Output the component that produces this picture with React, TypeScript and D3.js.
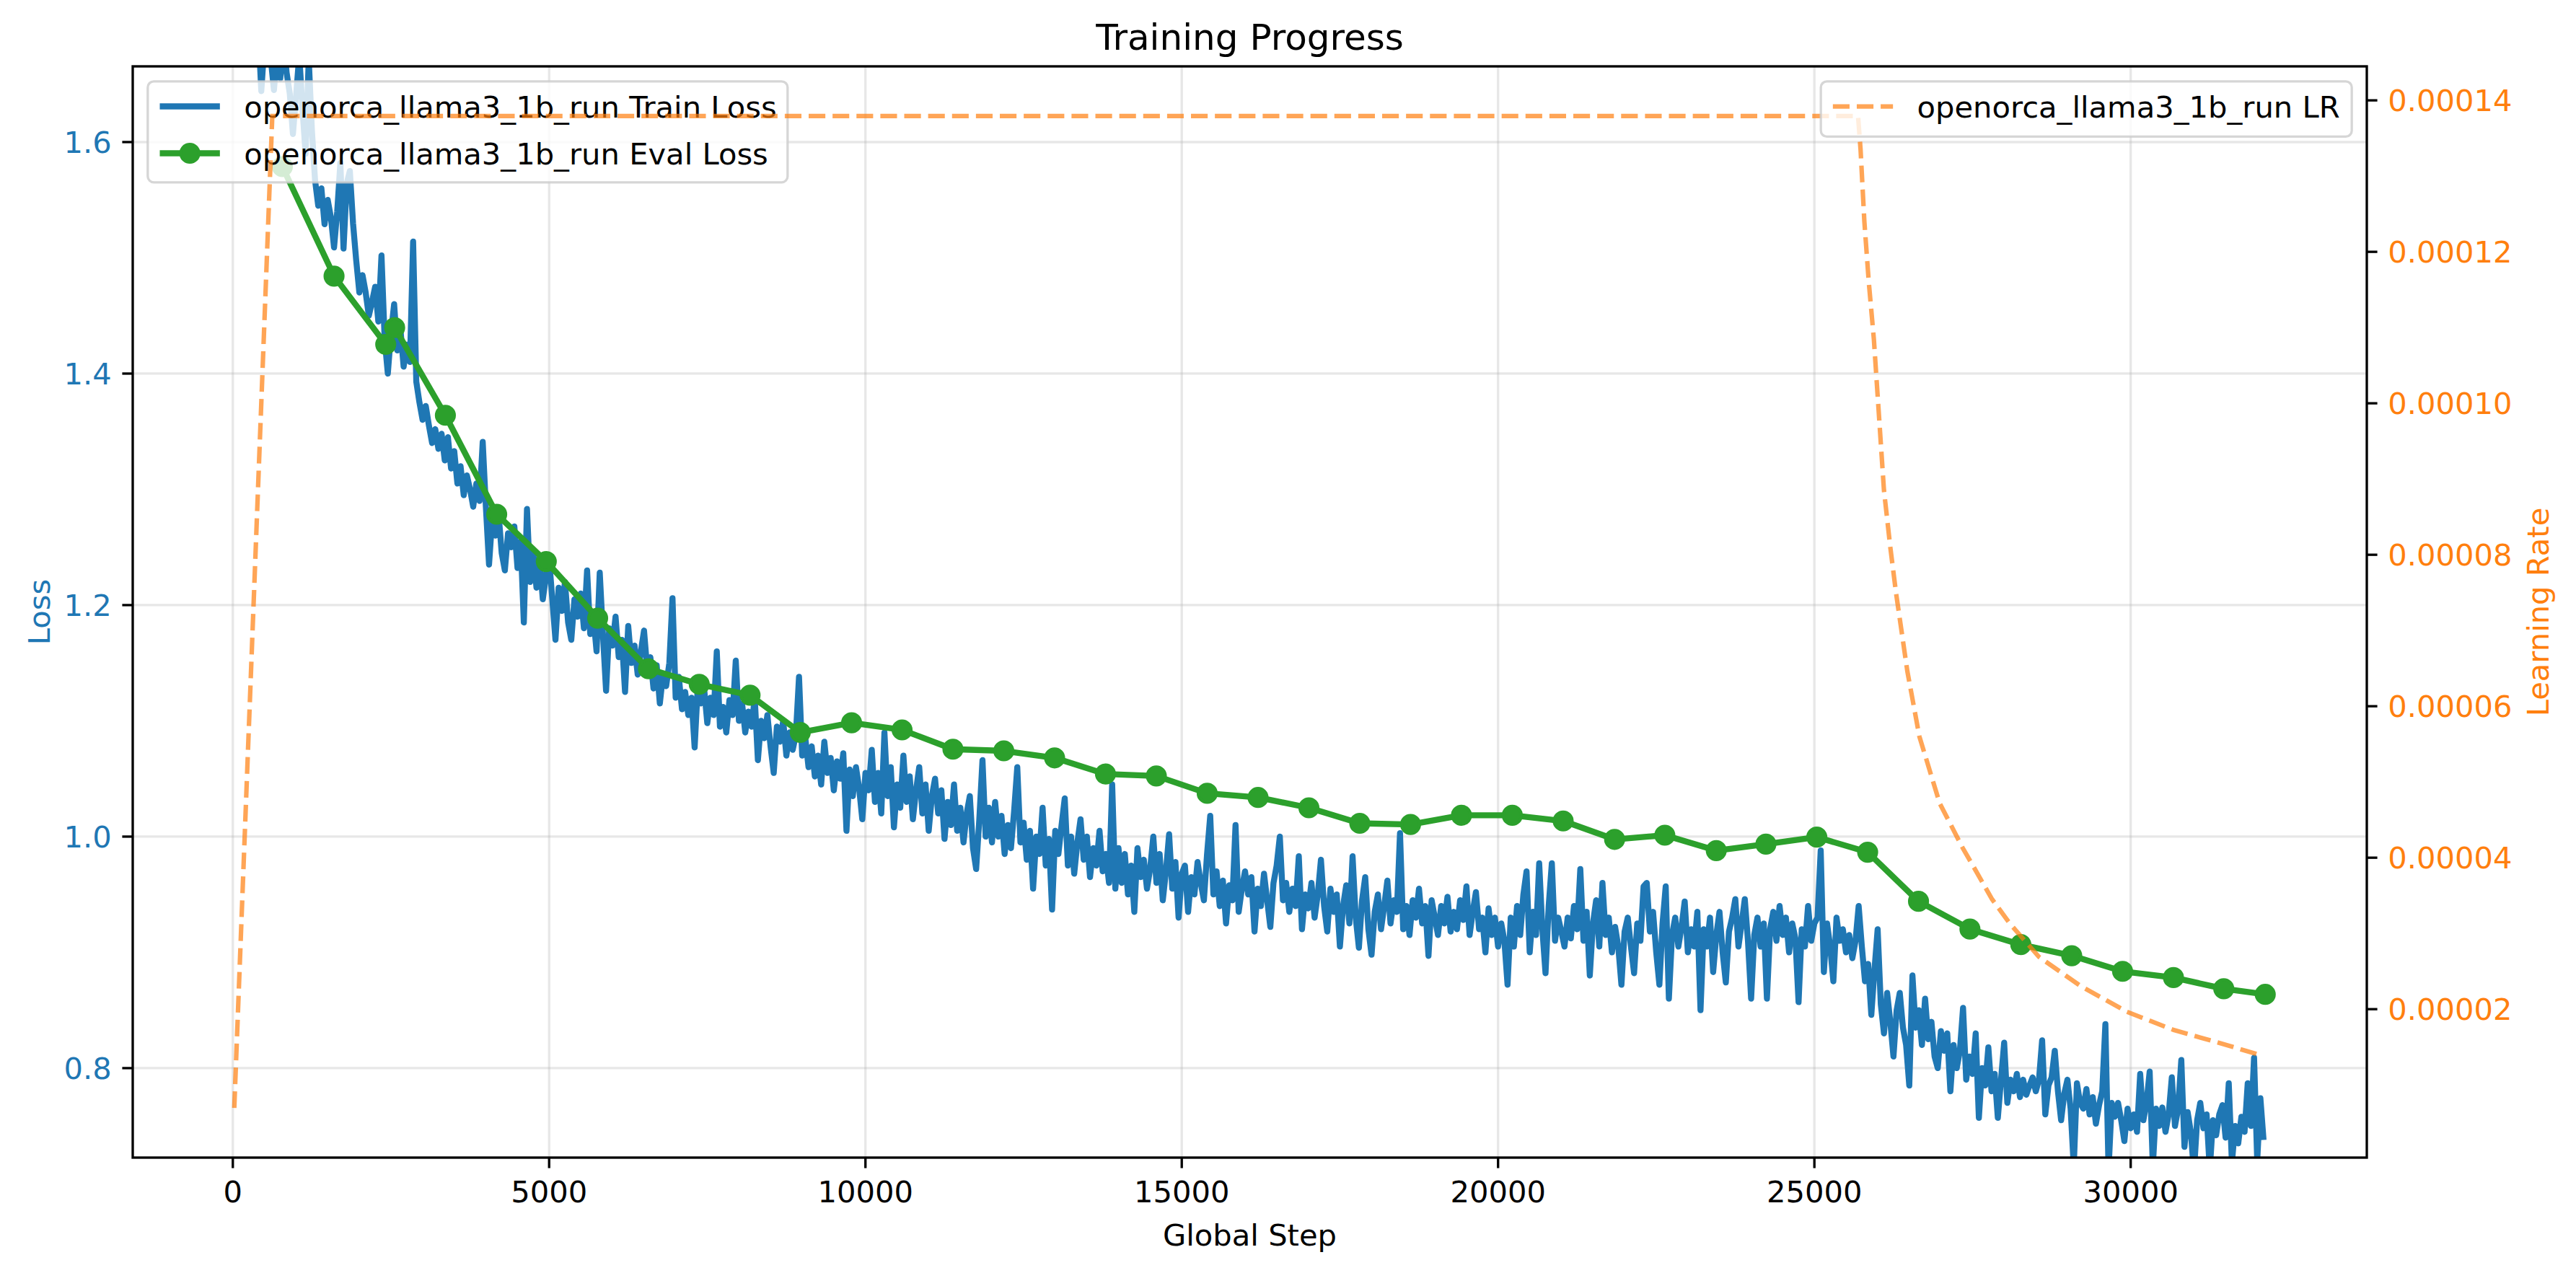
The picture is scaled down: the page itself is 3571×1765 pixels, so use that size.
import React from "react";
import * as d3 from "d3";

// ---- data ----
const RUN = "openorca_llama3_1b_run";

// train loss is logged every 50 steps starting at step 50
const TRAIN_START = 50;
const TRAIN_EVERY = 50;
const trainLoss: number[] = [
  2.45, 2.31, 2.17, 2.04, 1.94, 1.86, 1.77, 1.7, 1.644, 1.685, 1.7, 1.672, 1.645, 1.678, 1.655, 1.69, 1.66, 1.642, 1.607, 1.64,
  1.675, 1.63, 1.59, 1.672, 1.61, 1.567, 1.545, 1.56, 1.529, 1.55, 1.535, 1.509, 1.54, 1.582, 1.508, 1.564, 1.575, 1.53, 1.498, 1.47,
  1.485, 1.47, 1.45, 1.462, 1.475, 1.445, 1.502, 1.43, 1.4, 1.435, 1.46, 1.42, 1.438, 1.406, 1.425, 1.41, 1.514, 1.393, 1.375, 1.36,
  1.372, 1.355, 1.34, 1.352, 1.335, 1.348, 1.325, 1.345, 1.318, 1.333, 1.305, 1.32, 1.295, 1.312, 1.3, 1.285, 1.305, 1.29, 1.341, 1.285,
  1.235, 1.275, 1.26, 1.28, 1.245, 1.23, 1.262, 1.25, 1.268, 1.232, 1.255, 1.185, 1.283, 1.22, 1.245, 1.215, 1.238, 1.205, 1.225, 1.24,
  1.205, 1.17, 1.215, 1.195, 1.22, 1.185, 1.17, 1.205, 1.19, 1.21, 1.18, 1.23, 1.175, 1.19, 1.16, 1.228, 1.175, 1.126, 1.18, 1.165,
  1.19, 1.155, 1.17, 1.125, 1.182, 1.15, 1.165, 1.14, 1.16, 1.178, 1.145, 1.155, 1.128, 1.148, 1.115, 1.14, 1.13, 1.15, 1.206, 1.12,
  1.138, 1.11, 1.125, 1.105, 1.12, 1.077, 1.13, 1.115, 1.128, 1.098, 1.12, 1.105, 1.16, 1.095, 1.112, 1.09, 1.118, 1.105, 1.152, 1.1,
  1.115, 1.09, 1.108, 1.095, 1.12, 1.066, 1.1, 1.085, 1.105, 1.078, 1.055, 1.095, 1.082, 1.1, 1.07, 1.09, 1.075, 1.088, 1.138, 1.07,
  1.085, 1.06, 1.078, 1.052, 1.07, 1.045, 1.082, 1.055, 1.068, 1.04, 1.065, 1.05, 1.072, 1.005, 1.058, 1.035, 1.06, 1.042, 1.015, 1.055,
  1.04, 1.075, 1.03, 1.055, 1.02, 1.09, 1.035, 1.06, 1.008, 1.045, 1.025, 1.07, 1.03, 1.052, 1.015, 1.04, 1.06, 1.02, 1.045, 1.005,
  1.035, 1.05, 1.02, 1.04, 0.998, 1.03, 1.01, 1.045, 1.005, 1.025, 0.995, 1.02, 1.035, 0.99, 0.972, 1.015, 1.066, 1.0, 1.025, 0.995,
  1.03, 1.0, 1.018, 0.985, 1.01, 0.99, 1.022, 1.06, 0.995, 1.012, 0.98, 1.005, 0.955, 1.0, 0.985, 1.025, 0.975, 0.998, 0.937, 1.005,
  0.985, 1.01, 1.033, 0.975, 1.0, 0.968, 0.995, 1.015, 0.98, 1.0, 0.965, 0.99, 0.975, 1.005, 0.97, 0.985, 0.96, 1.045, 0.955, 0.99,
  0.96, 0.985, 0.95, 0.975, 0.935, 0.99, 0.965, 0.98, 0.955, 0.972, 1.0, 0.96, 0.985, 0.945, 0.97, 1.002, 0.955, 0.978, 0.93, 0.968,
  0.975, 0.935, 0.965, 0.95, 0.978, 0.96, 0.945, 0.985, 1.018, 0.95, 0.97, 0.94, 0.962, 0.925, 0.958, 0.945, 1.01, 0.935, 0.955, 0.97,
  0.95, 0.965, 0.918, 0.955, 0.94, 0.968, 0.945, 0.922, 0.96, 0.975, 1.0, 0.945, 0.96, 0.935, 0.955, 0.94, 0.983, 0.92, 0.95, 0.938,
  0.96, 0.93, 0.95, 0.98, 0.94, 0.918, 0.955, 0.935, 0.95, 0.905, 0.94, 0.958, 0.925, 0.983, 0.93, 0.904, 0.945, 0.965, 0.92, 0.898,
  0.935, 0.95, 0.92, 0.94, 0.962, 0.925, 0.945, 0.935, 1.003, 0.92, 0.94, 0.915, 0.945, 0.93, 0.955, 0.925, 0.94, 0.897, 0.945, 0.93,
  0.915, 0.94, 0.925, 0.948, 0.918, 0.935, 0.92, 0.945, 0.928, 0.957, 0.915, 0.935, 0.952, 0.92, 0.93, 0.9, 0.938, 0.915, 0.93, 0.905,
  0.925, 0.91, 0.872, 0.93, 0.905, 0.94, 0.915, 0.95, 0.97, 0.9, 0.935, 0.915, 0.977, 0.92, 0.882, 0.94, 0.977, 0.91, 0.93, 0.918,
  0.905, 0.93, 0.912, 0.94, 0.92, 0.972, 0.91, 0.935, 0.88, 0.925, 0.945, 0.905, 0.96, 0.915, 0.93, 0.9, 0.922, 0.905, 0.872, 0.918,
  0.93, 0.905, 0.882, 0.925, 0.91, 0.957, 0.96, 0.918, 0.935, 0.9, 0.872, 0.925, 0.957, 0.86, 0.915, 0.93, 0.905, 0.922, 0.944, 0.9,
  0.92, 0.905, 0.935, 0.85, 0.92, 0.905, 0.93, 0.883, 0.915, 0.935, 0.9, 0.874, 0.918, 0.93, 0.946, 0.905, 0.925, 0.946, 0.91, 0.86,
  0.915, 0.93, 0.905, 0.925, 0.86, 0.92, 0.935, 0.91, 0.94, 0.915, 0.93, 0.9, 0.925, 0.912, 0.857, 0.92, 0.905, 0.94, 0.91, 0.925,
  0.93, 0.988, 0.883, 0.925, 0.905, 0.875, 0.93, 0.91, 0.92, 0.9, 0.915, 0.895, 0.91, 0.94, 0.905, 0.875, 0.89, 0.846, 0.885, 0.92,
  0.855, 0.83, 0.865, 0.84, 0.81, 0.85, 0.865, 0.835, 0.82, 0.785, 0.88, 0.835, 0.85, 0.82, 0.86, 0.825, 0.84, 0.81, 0.8, 0.832,
  0.815, 0.83, 0.78, 0.82, 0.8, 0.815, 0.852, 0.79, 0.81, 0.795, 0.83, 0.757, 0.8, 0.785, 0.818, 0.78, 0.795, 0.757, 0.79, 0.822,
  0.77, 0.79, 0.78, 0.795, 0.775, 0.79, 0.777, 0.785, 0.792, 0.78, 0.79, 0.824, 0.76, 0.785, 0.792, 0.815, 0.78, 0.755, 0.778, 0.79,
  0.765, 0.715, 0.787, 0.77, 0.765, 0.782, 0.76, 0.775, 0.752, 0.768, 0.78, 0.838, 0.712, 0.77, 0.758, 0.77, 0.755, 0.737, 0.765, 0.748,
  0.76, 0.745, 0.795, 0.755, 0.77, 0.797, 0.715, 0.765, 0.75, 0.766, 0.745, 0.76, 0.792, 0.75, 0.765, 0.807, 0.732, 0.762, 0.745, 0.71,
  0.755, 0.77, 0.748, 0.76, 0.712, 0.755, 0.742, 0.76, 0.768, 0.74, 0.787, 0.718, 0.75, 0.735, 0.758, 0.745, 0.787, 0.75, 0.809, 0.72,
  0.774, 0.738,
];

const evalSteps = [
  783, 1600, 2417, 2558, 3360, 4171, 4955, 5767, 6570, 7373, 8176, 8970, 9781, 10579,
  11383, 12187, 12990, 13794, 14598, 15402, 16206, 17010, 17814, 18617, 19421, 20225,
  21029, 21842, 22636, 23449, 24234, 25038, 25842, 26646, 27459, 28263, 29068, 29872,
  30676, 31471, 32127,
];
const evalLoss = [
  1.5788, 1.4842, 1.4252, 1.4397, 1.364, 1.2785, 1.2376, 1.1887, 1.145, 1.1316, 1.1222, 1.09, 1.0983, 1.0922,
  1.0755, 1.0741, 1.068, 1.0541, 1.0524, 1.0374, 1.0338, 1.0249, 1.0115, 1.0105, 1.0184, 1.0184,
  1.0135, 0.9976, 1.0012, 0.9879, 0.9935, 0.9996, 0.9865, 0.9441, 0.9201, 0.9067, 0.8971, 0.8836,
  0.8782, 0.8686, 0.8637,
];

const lrSteps = [
  23, 624, 25690, 25730, 25790, 25860, 25940, 26000, 26100, 26200, 26290, 26470, 26660,
  26980, 27350, 27530, 27810, 28090, 28550, 29200, 29940, 30680, 31420, 32020,
];
const lrValues = [
  6.95e-6, 1.3794e-4, 1.3794e-4, 1.335e-4, 1.24e-4, 1.16e-4, 1.085e-4, 1.01e-4, 8.85e-5, 8.1e-5, 7.5e-5, 6.46e-5, 5.6e-5,
  4.72e-5, 4.12e-5, 3.86e-5, 3.45e-5, 3.13e-5, 2.69e-5, 2.31e-5, 1.965e-5, 1.725e-5, 1.55e-5, 1.4e-5,
];

const xTicks = [0, 5000, 10000, 15000, 20000, 25000, 30000];
const lossTicks = [0.8, 1.0, 1.2, 1.4, 1.6];
const lrTicks = [0.00002, 0.00004, 0.00006, 0.00008, 0.0001, 0.00012, 0.00014];
const lossLimits: [number, number] = [0.7227, 1.6654];

// ---- layout ----
const W = 3571;
const H = 1765;
const PT = 300 / 72; // figure saved at 300 dpi
const FS = 10 * PT;
const FONT = "'DejaVu Sans', sans-serif";
const BLUE = "#1f77b4";
const GREEN = "#2ca02c";
const ORANGE = "#ff7f0e";

const margin = { left: 184, right: 3281, top: 92, bottom: 1605 };
const TICK = 3.5 * PT;

const pad = (lo: number, hi: number): [number, number] => {
  const s = hi - lo;
  return [lo - 0.05 * s, hi + 0.05 * s];
};

const App: React.FC = () => {
  const trainSteps = trainLoss.map((_, i) => TRAIN_START + i * TRAIN_EVERY);
  const allSteps = [...trainSteps, ...evalSteps, ...lrSteps];

  const x = d3
    .scaleLinear()
    .domain(pad(d3.min(allSteps) as number, d3.max(allSteps) as number))
    .range([margin.left, margin.right]);
  const yLoss = d3.scaleLinear().domain(lossLimits).range([margin.bottom, margin.top]);
  const yLr = d3
    .scaleLinear()
    .domain(pad(d3.min(lrValues) as number, d3.max(lrValues) as number))
    .range([margin.bottom, margin.top]);

  const trainLine = d3
    .line<number>()
    .x((_, i) => x(trainSteps[i]))
    .y(d => yLoss(d));
  const evalLine = d3
    .line<number>()
    .x((_, i) => x(evalSteps[i]))
    .y(d => yLoss(d));
  const lrLine = d3
    .line<number>()
    .x((_, i) => x(lrSteps[i]))
    .y(d => yLr(d));

  const fmtLoss = d3.format(".1f");
  const fmtLr = d3.format(".5f");

  const lw = 2 * PT;
  const pw = margin.right - margin.left;
  const ph = margin.bottom - margin.top;
  const cx = (margin.left + margin.right) / 2;
  const cy = (margin.top + margin.bottom) / 2;

  // legends (matplotlib metrics, fontsize units)
  const legPad = 0.5 * FS;
  const border = 0.4 * FS;
  const handleLen = 2 * FS;
  const textPad = 0.8 * FS;
  const leg1 = { x: margin.left + legPad, y: margin.top + legPad, w: 887, h: 140 };
  const leg2 = { w: 736, h: 76.6 };
  const leg2x = margin.right - legPad - leg2.w;

  return (
    <svg
      width={W}
      height={H}
      style={{ position: "absolute", left: 0, top: 0, background: "#fff" }}
      fontFamily={FONT}
    >
      <defs>
        <clipPath id="plotArea">
          <rect x={margin.left} y={margin.top} width={pw} height={ph} />
        </clipPath>
      </defs>
      <rect x={0} y={0} width={W} height={H} fill="#fff" />

      {/* grid */}
      <g stroke="#b0b0b0" strokeOpacity={0.3} strokeWidth={0.8 * PT}>
        {xTicks.map(t => (
          <line key={"gx" + t} x1={x(t)} x2={x(t)} y1={margin.top} y2={margin.bottom} />
        ))}
        {lossTicks.map(t => (
          <line key={"gy" + t} x1={margin.left} x2={margin.right} y1={yLoss(t)} y2={yLoss(t)} />
        ))}
      </g>

      {/* loss curves */}
      <g clipPath="url(#plotArea)">
        <path
          d={trainLine(trainLoss) || ""}
          fill="none"
          stroke={BLUE}
          strokeWidth={lw}
          strokeLinejoin="round"
        />
        <path
          d={evalLine(evalLoss) || ""}
          fill="none"
          stroke={GREEN}
          strokeWidth={lw}
          strokeLinejoin="round"
        />
        {evalLoss.map((v, i) => (
          <circle
            key={"e" + i}
            cx={x(evalSteps[i])}
            cy={yLoss(v)}
            r={3 * PT}
            fill={GREEN}
            stroke={GREEN}
            strokeWidth={PT}
          />
        ))}
      </g>

      {/* loss legend */}
      <g>
        <rect
          x={leg1.x}
          y={leg1.y}
          width={leg1.w}
          height={leg1.h}
          rx={0.2 * FS}
          fill="#fff"
          fillOpacity={0.8}
          stroke="#cccccc"
          strokeOpacity={0.8}
          strokeWidth={0.8 * PT}
        />
        <line
          x1={leg1.x + border}
          x2={leg1.x + border + handleLen}
          y1={147.5}
          y2={147.5}
          stroke={BLUE}
          strokeWidth={lw}
        />
        <text x={leg1.x + border + handleLen + textPad} y={162.5} fontSize={FS}>
          {RUN} Train Loss
        </text>
        <line
          x1={leg1.x + border}
          x2={leg1.x + border + handleLen}
          y1={212.5}
          y2={212.5}
          stroke={GREEN}
          strokeWidth={lw}
        />
        <circle
          cx={leg1.x + border + handleLen / 2}
          cy={212.5}
          r={3 * PT}
          fill={GREEN}
          stroke={GREEN}
          strokeWidth={PT}
        />
        <text x={leg1.x + border + handleLen + textPad} y={227.5} fontSize={FS}>
          {RUN} Eval Loss
        </text>
      </g>

      {/* learning rate (twin axis) */}
      <g clipPath="url(#plotArea)">
        <path
          d={lrLine(lrValues) || ""}
          fill="none"
          stroke={ORANGE}
          strokeOpacity={0.7}
          strokeWidth={1.5 * PT}
          strokeDasharray={`${3.7 * 1.5 * PT} ${1.6 * 1.5 * PT}`}
        />
      </g>

      {/* spines */}
      <rect
        x={margin.left}
        y={margin.top}
        width={pw}
        height={ph}
        fill="none"
        stroke="#000"
        strokeWidth={0.8 * PT}
      />

      {/* x axis */}
      <g>
        {xTicks.map(t => (
          <g key={"xt" + t}>
            <line
              x1={x(t)}
              x2={x(t)}
              y1={margin.bottom}
              y2={margin.bottom + TICK}
              stroke="#000"
              strokeWidth={0.8 * PT}
            />
            <text x={x(t)} y={1667} fontSize={FS} textAnchor="middle" fill="#000">
              {String(t)}
            </text>
          </g>
        ))}
        <text x={cx} y={1727} fontSize={FS} textAnchor="middle" fill="#000">
          Global Step
        </text>
      </g>

      {/* left axis */}
      <g>
        {lossTicks.map(t => (
          <g key={"yl" + t}>
            <line
              x1={margin.left - TICK}
              x2={margin.left}
              y1={yLoss(t)}
              y2={yLoss(t)}
              stroke="#000"
              strokeWidth={0.8 * PT}
            />
            <text
              x={margin.left - 2 * TICK}
              y={yLoss(t)}
              dy="0.36em"
              fontSize={FS}
              textAnchor="end"
              fill={BLUE}
            >
              {fmtLoss(t)}
            </text>
          </g>
        ))}
        <text
          transform={`translate(69,${cy}) rotate(-90)`}
          fontSize={FS}
          textAnchor="middle"
          fill={BLUE}
        >
          Loss
        </text>
      </g>

      {/* right axis */}
      <g>
        {lrTicks.map(t => (
          <g key={"yr" + t}>
            <line
              x1={margin.right}
              x2={margin.right + TICK}
              y1={yLr(t)}
              y2={yLr(t)}
              stroke="#000"
              strokeWidth={0.8 * PT}
            />
            <text
              x={margin.right + 2 * TICK}
              y={yLr(t)}
              dy="0.36em"
              fontSize={FS}
              textAnchor="start"
              fill={ORANGE}
            >
              {fmtLr(t)}
            </text>
          </g>
        ))}
        <text
          transform={`translate(3533,${cy}) rotate(-90)`}
          fontSize={FS}
          textAnchor="middle"
          fill={ORANGE}
        >
          Learning Rate
        </text>
      </g>

      {/* lr legend */}
      <g>
        <rect
          x={leg2x}
          y={margin.top + legPad}
          width={leg2.w}
          height={leg2.h}
          rx={0.2 * FS}
          fill="#fff"
          fillOpacity={0.8}
          stroke="#cccccc"
          strokeOpacity={0.8}
          strokeWidth={0.8 * PT}
        />
        <line
          x1={leg2x + border}
          x2={leg2x + border + handleLen}
          y1={147.5}
          y2={147.5}
          stroke={ORANGE}
          strokeOpacity={0.7}
          strokeWidth={1.5 * PT}
          strokeDasharray={`${3.7 * 1.5 * PT} ${1.6 * 1.5 * PT}`}
        />
        <text x={leg2x + border + handleLen + textPad} y={162.5} fontSize={FS}>
          {RUN} LR
        </text>
      </g>

      {/* title */}
      <text x={cx} y={69} fontSize={12 * PT} textAnchor="middle" fill="#000">
        Training Progress
      </text>
    </svg>
  );
};

export default App;
